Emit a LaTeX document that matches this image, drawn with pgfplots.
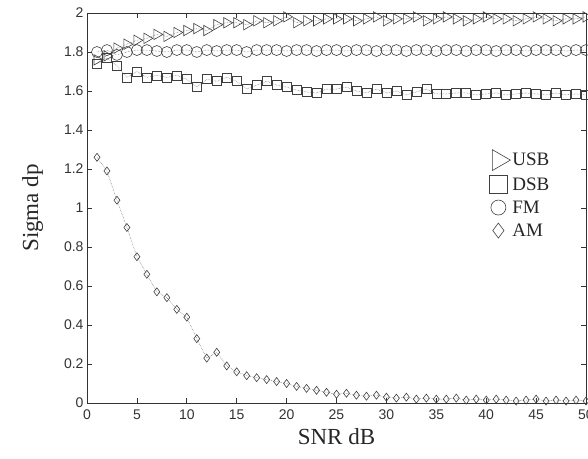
\documentclass[border=0pt]{standalone}
\usepackage{fontspec}
\setmainfont{Liberation Serif}
\newfontfamily\arialfont{Liberation Sans}
\usepackage{pgfplots}
\usepackage{pgfplotstable}
\pgfplotsset{compat=1.18}

% columns: SNR, USB, DSB, FM, AM
\pgfplotstableread{
x  usb   dsb    fm     am
1  1.76  1.74   1.800  1.26
2  1.78  1.77   1.810  1.19
3  1.82  1.73   1.785  1.04
4  1.84  1.67   1.800  0.90
5  1.86  1.70   1.810  0.75
6  1.87  1.67   1.810  0.66
7  1.89  1.68   1.805  0.57
8  1.88  1.67   1.800  0.54
9  1.90  1.68   1.810  0.48
10 1.91  1.66   1.810  0.44
11 1.92  1.62   1.800  0.33
12 1.91  1.66   1.810  0.23
13 1.94  1.65   1.805  0.26
14 1.95  1.67   1.810  0.19
15 1.95  1.65   1.810  0.16
16 1.94  1.61   1.800  0.14
17 1.96  1.63   1.810  0.13
18 1.95  1.65   1.810  0.12
19 1.96  1.63   1.810  0.11
20 1.98  1.62   1.805  0.10
21 1.95  1.605  1.810  0.085
22 1.96  1.595  1.810  0.075
23 1.96  1.59   1.805  0.065
24 1.97  1.61   1.810  0.055
25 1.97  1.61   1.810  0.045
26 1.97  1.62   1.805  0.05
27 1.96  1.60   1.810  0.04
28 1.97  1.59   1.810  0.035
29 1.98  1.61   1.805  0.04
30 1.96  1.59   1.810  0.03
31 1.97  1.60   1.810  0.025
32 1.97  1.58   1.805  0.03
33 1.98  1.595  1.810  0.02
34 1.96  1.61   1.810  0.025
35 1.97  1.585  1.805  0.02
36 1.98  1.585  1.810  0.02
37 1.97  1.59   1.810  0.025
38 1.96  1.59   1.805  0.015
39 1.97  1.58   1.810  0.02
40 1.98  1.585  1.810  0.015
41 1.97  1.59   1.805  0.02
42 1.97  1.58   1.810  0.015
43 1.96  1.585  1.810  0.01
44 1.97  1.59   1.805  0.015
45 1.98  1.585  1.810  0.02
46 1.97  1.58   1.810  0.01
47 1.96  1.59   1.810  0.015
48 1.97  1.58   1.805  0.01
49 1.97  1.585  1.810  0.015
50 1.98  1.58   1.810  0.01
}\datatable

\begin{document}
\begin{tikzpicture}
\begin{axis}[
    scale only axis,
    width=499pt, height=390pt,
    xmin=0, xmax=50, ymin=0, ymax=2,
    xtick={0,5,...,50},
    ytick={0,0.2,...,2.01},
    yticklabel style={/pgf/number format/fixed},
    xticklabel style={yshift=-3pt},
    /pgf/number format/assume math mode=true,
    tick label style={font=\arialfont\fontsize{14}{14}\selectfont, black!80},
    tick align=inside,
    major tick length=5pt,
    axis line style={black!80, line width=0.8pt},
    every tick/.style={black!80, line width=0.6pt},
    xlabel={SNR dB}, ylabel={Sigma dp},
    label style={font=\fontsize{23}{23}\selectfont, black!85},
    xlabel style={yshift=-2pt},
    ylabel style={yshift=14pt},
    legend style={at={(axis cs:40.3,1.30)}, anchor=north west, draw=none, fill=none,
        font=\fontsize{19}{19}\selectfont, text=black!85, row sep=5pt,
        inner sep=0pt, legend cell align=left},
    every axis plot/.append style={densely dotted, line width=0.5pt, black!60,
        mark options={solid, black!75, line width=0.6pt}},
]
\addplot[mark=triangle, mark size=6pt,
    mark options={solid, black!75, line width=0.6pt, rotate=-90},
    legend image code/.code={\draw[mark size=12pt] plot coordinates {(0.35cm,0cm)};}]
    table[x=x, y=usb] {\datatable};
\addlegendentry{USB}
\addplot[mark=square, mark size=4.5pt,
    legend image code/.code={\draw[mark size=9pt] plot coordinates {(0.35cm,0cm)};}]
    table[x=x, y=dsb] {\datatable};
\addlegendentry{DSB}
\addplot[mark=o, mark size=5.5pt,
    legend image code/.code={\draw[mark size=7.5pt] plot coordinates {(0.35cm,0cm)};}]
    table[x=x, y=fm] {\datatable};
\addlegendentry{FM}
\addplot[mark=diamond, mark size=4pt,
    legend image code/.code={\draw[mark size=7.5pt] plot coordinates {(0.35cm,0cm)};}]
    table[x=x, y=am] {\datatable};
\addlegendentry{AM}
\end{axis}
\pgfresetboundingbox
\path ([xshift=-87pt,yshift=-55pt]current axis.south west) rectangle ([xshift=2pt,yshift=13pt]current axis.north east);
\end{tikzpicture}
\end{document}
